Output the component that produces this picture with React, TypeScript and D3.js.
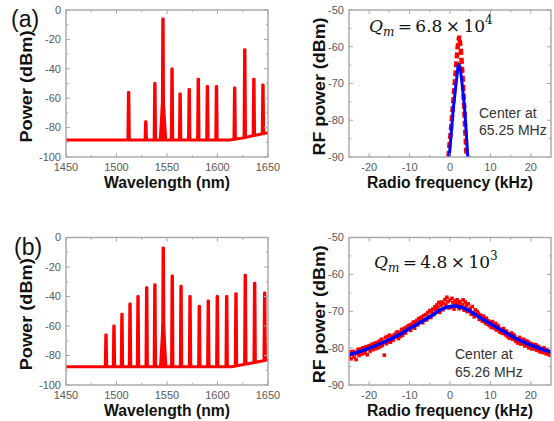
import React from 'react';
import * as d3 from 'd3';

// ---------- axis ticks ----------
const wlTicks = [1450, 1500, 1550, 1600, 1650];
const wlMinor = [1475, 1525, 1575, 1625];
const powTicks = [0, -20, -40, -60, -80, -100];
const powMinor = [-10, -30, -50, -70, -90];
const rfTicks = [-20, -10, 0, 10, 20];
const rfMinor = [-15, -5, 5, 15];
const rfPowTicks = [-50, -60, -70, -80, -90];
const rfPowMinor = [-55, -65, -75, -85];

// ---------- (a) optical spectrum: [wavelength, top dBm, floor dBm] ----------
const combA: [number, number, number][] = [
  [1512, -56, -88.5], [1529, -76, -88.5], [1538, -50, -88.5], [1546, -6, -88.5],
  [1555, -40, -88.5], [1563, -57, -88.5], [1572, -54, -88.5], [1581, -47, -88.5],
  [1590, -52, -88.5], [1599, -52, -88.5], [1617, -53, -88], [1627, -27, -87],
  [1636, -47, -85.6], [1645, -51, -84.3],
];
const baselineA: [number, number][] = [[1450, -88.5], [1612, -88.5], [1626, -87], [1636, -85.4], [1650, -83.5]];
const pedestalA: [number, number][] = [[1543.2, -88.5], [1545.5, -62], [1546.5, -62], [1548.8, -88.5]];

// ---------- (b) optical spectrum ----------
const combB: [number, number, number][] = [
  [1489.6, -66, -87.6], [1497.5, -60, -87.6], [1505.4, -52, -87.6], [1513.4, -45, -87.6],
  [1521.3, -40, -87.6], [1529.9, -34, -87.6], [1538, -32, -87.6], [1546.3, -7, -87.6],
  [1555.2, -26, -87.6], [1563.9, -33, -87.6], [1572.8, -40, -87.6], [1582, -46.5, -87.6],
  [1590.9, -43, -87.6], [1599.8, -40, -87.6], [1609.1, -40, -87.6], [1618.3, -38, -87.2],
  [1627.5, -25.5, -86], [1636.8, -31, -84.8], [1646.7, -37.5, -83.3],
];
const baselineB: [number, number][] = [[1450, -87.6], [1614, -87.6], [1627, -86], [1637, -84.8], [1650, -82.8]];
const pedestalB: [number, number][] = [[1543.5, -87.6], [1545.8, -60], [1546.8, -60], [1549, -87.6]];

// ---------- (a) RF spectrum ----------
const rfMeasA: [number, number][] = [
  [-0.4, -90], [0.2, -83], [0.8, -75], [1.4, -67], [1.9, -60], [2.3, -57],
  [2.7, -61], [3.1, -68], [3.5, -76], [3.8, -83], [4.1, -90],
];
const rfFitA: [number, number][] = [
  [-0.2, -90], [0.8, -77], [1.5, -70], [2.0, -65.2], [2.2, -64.8], [2.5, -65.5],
  [3.1, -71], [3.7, -78], [4.4, -90],
];

// ---------- (b) RF spectrum ----------
const rfFreqB = d3.range(-25, 25.001, 0.25);
const rfMeasB = [
  -82.3, -81.0, -82.9, -81.6, -80.9, -82.4, -81.2, -83.1, -81.5, -80.3, -82.0, -81.4,
  -80.2, -81.6, -79.9, -81.3, -80.9, -79.6, -81.8, -80.1, -79.3, -80.8, -80.2, -78.9,
  -80.4, -79.0, -78.6, -80.1, -78.5, -79.9, -78.1, -79.6, -77.6, -79.3, -78.2, -81.9,
  -77.1, -78.8, -76.9, -78.3, -76.5, -78.4, -77.9, -76.8, -77.8, -76.3, -76.9, -75.8,
  -75.6, -77.4, -75.9, -76.8, -74.9, -76.5, -75.2, -74.6, -75.9, -74.3, -74.8, -73.9,
  -73.8, -75.2, -73.5, -74.1, -72.9, -74.6, -73.2, -72.5, -73.7, -72.0, -72.6, -71.8,
  -71.6, -73.1, -71.2, -72.4, -70.9, -72.3, -70.4, -71.5, -69.8, -71.7, -70.2, -69.4,
  -70.9, -68.8, -69.5, -68.3, -69.1, -67.6, -70.3, -68.4, -67.5, -69.6, -67.9, -66.8,
  -68.3, -66.2, -67.4, -69.1, -67.0, -68.9, -66.5, -67.7, -69.4, -67.2, -68.1, -66.9,
  -67.8, -69.3, -67.4, -68.6, -68.2, -66.9, -69.7, -67.5, -68.5, -70.1, -68.0, -69.6,
  -69.2, -70.8, -68.7, -70.4, -71.5, -69.6, -70.9, -70.1, -70.6, -72.2, -71.0, -71.8,
  -72.7, -71.3, -72.0, -73.2, -71.9, -73.5, -72.6, -73.9, -73.0, -74.4, -72.8, -74.0,
  -74.6, -73.3, -75.1, -73.8, -74.2, -75.6, -74.9, -75.8, -76.0, -74.7, -75.5, -76.4,
  -75.4, -76.9, -76.1, -77.3, -77.0, -75.9, -77.6, -76.4, -76.8, -78.1, -77.5, -78.6,
  -78.3, -77.1, -78.9, -77.8, -78.8, -77.6, -79.4, -78.0, -79.3, -78.2, -79.9, -78.7,
  -78.8, -80.2, -79.5, -79.0, -80.3, -79.1, -80.6, -79.5, -79.7, -81.0, -80.2, -80.7,
  -81.2, -79.9, -80.8, -81.5, -80.4, -81.6, -80.9, -81.9, -81.3,
];
const rfFitB: [number, number][] = [
  [-25, -81.8], [-22, -80.8], [-19, -79.6], [-16, -78.2], [-13, -76.6], [-10, -74.7],
  [-7, -72.8], [-4, -70.8], [-2, -69.4], [0, -68.7], [1, -68.6], [2, -68.7], [4, -69.4],
  [7, -71.4], [10, -73.4], [13, -75.3], [16, -77.2], [19, -78.7], [22, -80.0], [25, -81.1],
];

const RED = '#ff0000';
const BLUE = '#0000ff';
const FRAME = '#a6a6a6';
const LABEL = '#595959';
const SANS = 'Liberation Sans, Arial, sans-serif';

type PanelProps = {
  id: string;
  left: number; top: number; right: number; bottom: number;
  xDomain: [number, number]; yDomain: [number, number];
  xTicks: number[]; xMinor: number[]; yTicks: number[]; yMinor: number[];
  xTitle: string; xTitleLen: number; yTitle: string; yTitleOffset: number; yTitleLen: number;
  children: (x: d3.ScaleLinear<number, number>, y: d3.ScaleLinear<number, number>) => React.ReactNode;
};

function Panel(p: PanelProps) {
  const x = d3.scaleLinear().domain(p.xDomain).range([p.left, p.right]);
  const y = d3.scaleLinear().domain(p.yDomain).range([p.bottom, p.top]);
  const maj = 4, mnr = 2.2;
  const cx = (p.left + p.right) / 2;
  const cy = (p.top + p.bottom) / 2 + 3;
  return (
    <g>
      <defs>
        <clipPath id={p.id}>
          <rect x={p.left} y={p.top} width={p.right - p.left} height={p.bottom - p.top} />
        </clipPath>
      </defs>
      <g clipPath={`url(#${p.id})`}>{p.children(x, y)}</g>
      <rect x={p.left} y={p.top} width={p.right - p.left} height={p.bottom - p.top}
        fill="none" stroke={FRAME} strokeWidth={1.4} />
      {p.xTicks.concat(p.xMinor).map((t, i) => {
        const L = p.xTicks.includes(t) ? maj : mnr;
        return (
          <g key={'xt' + i} stroke={FRAME} strokeWidth={1}>
            <line x1={x(t)} x2={x(t)} y1={p.bottom} y2={p.bottom - L} />
            <line x1={x(t)} x2={x(t)} y1={p.top} y2={p.top + L} />
          </g>
        );
      })}
      {p.yTicks.concat(p.yMinor).map((t, i) => {
        const L = p.yTicks.includes(t) ? maj : mnr;
        return (
          <g key={'yt' + i} stroke={FRAME} strokeWidth={1}>
            <line y1={y(t)} y2={y(t)} x1={p.left} x2={p.left + L} />
            <line y1={y(t)} y2={y(t)} x1={p.right} x2={p.right - L} />
          </g>
        );
      })}
      {p.xTicks.map((t) => (
        <text key={'xl' + t} x={x(t)} y={p.bottom + 13.5} textAnchor="middle"
          fontFamily={SANS} fontSize={11} fill={LABEL}>{t}</text>
      ))}
      {p.yTicks.map((t) => (
        <text key={'yl' + t} x={p.left - 5} y={y(t)} dy="0.35em" textAnchor="end"
          fontFamily={SANS} fontSize={11} fill={LABEL}>{t}</text>
      ))}
      <text x={cx} y={p.bottom + 31} textAnchor="middle" fontFamily={SANS}
        fontWeight="bold" fontSize={16} fill="#111" textLength={p.xTitleLen} lengthAdjust="spacingAndGlyphs">{p.xTitle}</text>
      <text transform={`translate(${p.left - p.yTitleOffset},${cy}) rotate(-90)`} textAnchor="middle" dy="0.35em"
        fontFamily={SANS} fontWeight="bold" fontSize={17} fill="#111"
        textLength={p.yTitleLen} lengthAdjust="spacingAndGlyphs">{p.yTitle}</text>
    </g>
  );
}

function Spectrum({ x, y, comb, baseline, pedestal }: {
  x: d3.ScaleLinear<number, number>; y: d3.ScaleLinear<number, number>;
  comb: [number, number, number][]; baseline: [number, number][]; pedestal: [number, number][];
}) {
  const line = d3.line<[number, number]>().x((d) => x(d[0])).y((d) => y(d[1]));
  return (
    <g fill="none" stroke={RED} strokeWidth={2.8} strokeLinejoin="round">
      <path d={line(baseline) || ''} strokeWidth={3} />
      <path d={line(pedestal) || ''} />
      {comb.map(([w, top, floor], i) => (
        <path key={i} fill={RED}
          d={line([[w - 0.8, floor], [w - 0.3, top], [w + 0.3, top], [w + 0.8, floor]]) || ''} />
      ))}
    </g>
  );
}

function QText({ x, y, mant, exp }: { x: number; y: number; mant: string; exp: string }) {
  return (
    <text x={x} y={y} fontFamily="DejaVu Serif, Liberation Serif, serif" fontSize={17} fill="#111"
      style={{ whiteSpace: 'pre' }}>
      <tspan fontStyle="italic">Q</tspan>
      <tspan fontStyle="italic" fontSize={12} dy={4}>m</tspan>
      <tspan dy={-4}>{`\u2009=\u20096.8\u2009×\u200910`.replace('6.8', mant)}</tspan>
      <tspan fontSize={12} dy={-8}>{exp}</tspan>
    </text>
  );
}

export default function App() {
  return (
    <svg width={554} height={421} viewBox="0 0 554 421"
      style={{ position: 'absolute', left: 0, top: 0, background: '#fff' }}>
      <rect width={554} height={421} fill="#fff" />

      <text x={11} y={27} fontFamily={SANS} fontSize={23} fill="#111">(a)</text>
      <text x={14} y={255} fontFamily={SANS} fontSize={23} fill="#111">(b)</text>

      {/* (a) left */}
      <Panel id="ca1" left={66} top={10} right={268} bottom={157} xDomain={[1450, 1650]} yDomain={[-100, 0]}
        xTicks={wlTicks} xMinor={wlMinor} yTicks={powTicks} yMinor={powMinor}
        xTitle="Wavelength (nm)" xTitleLen={126} yTitle="Power (dBm)" yTitleOffset={40} yTitleLen={112}>
        {(x, y) => <Spectrum x={x} y={y} comb={combA} baseline={baselineA} pedestal={pedestalA} />}
      </Panel>

      {/* (a) right */}
      <Panel id="ca2" left={349} top={10} right={551} bottom={157} xDomain={[-25, 25]} yDomain={[-90, -50]}
        xTicks={rfTicks} xMinor={rfMinor} yTicks={rfPowTicks} yMinor={rfPowMinor}
        xTitle="Radio frequency (kHz)" xTitleLen={166} yTitle="RF power (dBm)" yTitleOffset={30} yTitleLen={138}>
        {(x, y) => {
          const line = d3.line<[number, number]>().x((d) => x(d[0])).y((d) => y(d[1]));
          return (
            <g fill="none">
              <path d={line(rfMeasA) || ''} stroke={RED} strokeWidth={4.5} strokeDasharray="6 3" />
              <path d={line(rfFitA) || ''} stroke={BLUE} strokeWidth={3} strokeLinejoin="round" />
            </g>
          );
        }}
      </Panel>
      <QText x={369} y={32} mant="6.8" exp="4" />
      <text x={479} y={118} fontFamily={SANS} fontSize={14} fill="#333">Center at</text>
      <text x={479} y={135} fontFamily={SANS} fontSize={14} fill="#333">65.25 MHz</text>

      {/* (b) left */}
      <Panel id="cb1" left={66} top={237.5} right={268} bottom={385} xDomain={[1450, 1650]} yDomain={[-100, 0]}
        xTicks={wlTicks} xMinor={wlMinor} yTicks={powTicks} yMinor={powMinor}
        xTitle="Wavelength (nm)" xTitleLen={126} yTitle="Power (dBm)" yTitleOffset={40} yTitleLen={112}>
        {(x, y) => <Spectrum x={x} y={y} comb={combB} baseline={baselineB} pedestal={pedestalB} />}
      </Panel>

      {/* (b) right */}
      <Panel id="cb2" left={349} top={237.5} right={551} bottom={385} xDomain={[-25, 25]} yDomain={[-90, -50]}
        xTicks={rfTicks} xMinor={rfMinor} yTicks={rfPowTicks} yMinor={rfPowMinor}
        xTitle="Radio frequency (kHz)" xTitleLen={166} yTitle="RF power (dBm)" yTitleOffset={30} yTitleLen={138}>
        {(x, y) => {
          const line = d3.line<[number, number]>().x((d) => x(d[0])).y((d) => y(d[1])).curve(d3.curveMonotoneX);
          return (
            <g>
              {rfMeasB.map((v, i) => (
                <rect key={i} x={x(rfFreqB[i]) - 1.8} y={y(v) - 1.8} width={3.6} height={3.6} fill={RED} />
              ))}
              <path d={line(rfFitB) || ''} fill="none" stroke={BLUE} strokeWidth={3.5} />
            </g>
          );
        }}
      </Panel>
      <QText x={374} y={268} mant="4.8" exp="3" />
      <text x={455} y={359} fontFamily={SANS} fontSize={14} fill="#333">Center at</text>
      <text x={455} y={377} fontFamily={SANS} fontSize={14} fill="#333">65.26 MHz</text>
    </svg>
  );
}
